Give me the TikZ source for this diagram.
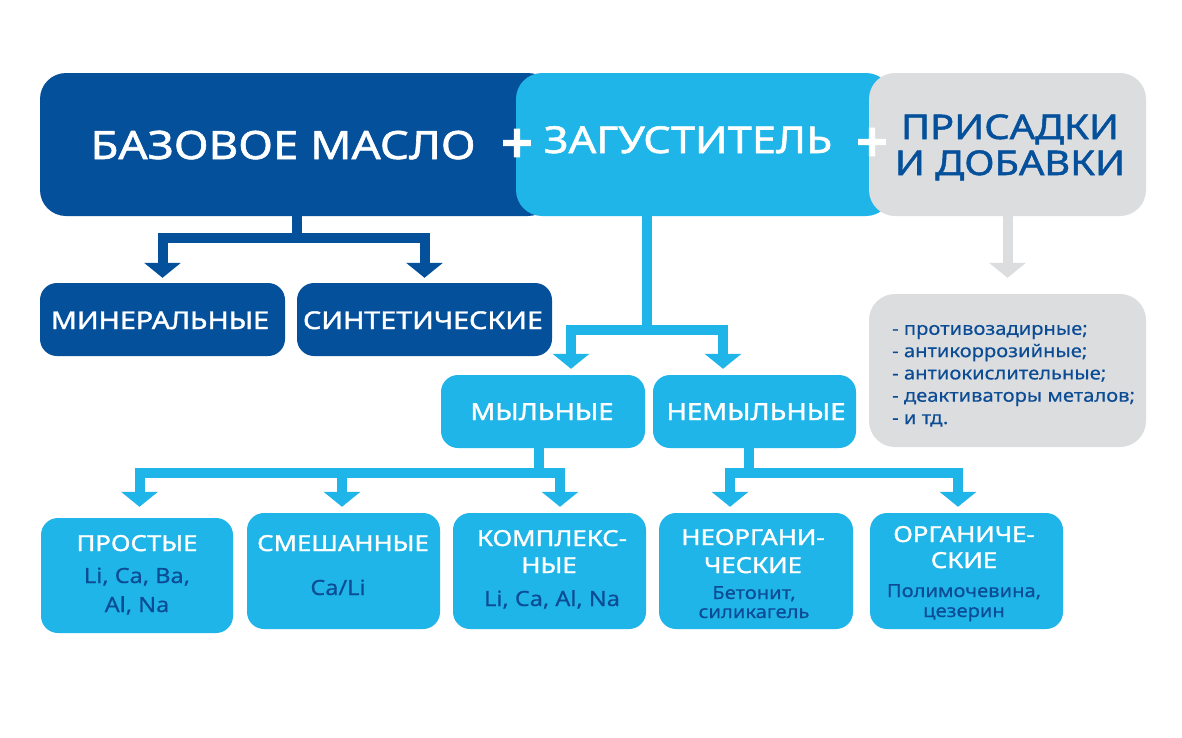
\documentclass[tikz,border=0pt]{standalone}
\usepackage{fontspec}
\setmainfont{Noto Sans}[FakeStretch=1.12, FakeBold=0.4]
\newfontfamily\tfont{Noto Sans}[FakeStretch=1.17, FakeBold=1.5]
\newfontfamily\plusfont{Noto Sans}[FakeBold=4.5]
\usetikzlibrary{arrows.meta,calc}
\definecolor{dkblue}{HTML}{04509B}
\definecolor{ltblue}{HTML}{1FB5E8}
\definecolor{grayb}{HTML}{DCDDDF}
\definecolor{txtblue}{HTML}{0C4C95}
\begin{document}
\begin{tikzpicture}[x=1pt,y=-1pt,
  bigbox/.style={rounded corners=26pt, inner sep=0pt, draw=none},
  smallbox/.style={rounded corners=17pt, inner sep=0pt, draw=none},
  conn/.style={line width=10pt, draw=#1, line join=miter,
    -{Triangle[width=36pt,length=15pt,fill=#1]}},
  wtitle/.style={text=white, anchor=base, inner sep=0pt},
  fs/.style={font=\tfont\fontsize{#1}{#1}\selectfont},
  fsr/.style={font=\fontsize{#1}{#1}\selectfont},
  sub/.style={text=txtblue, anchor=base, inner sep=0pt}
]
\useasboundingbox[fill=white] (0,0) rectangle (1182,737);

% top boxes
\node[bigbox, fill=dkblue, minimum width=514pt, minimum height=143pt] (base) at (297,144.5) {};
\node[bigbox, fill=ltblue, minimum width=376pt, minimum height=143pt] (thick) at (704,144.5) {};
\node[bigbox, fill=grayb, minimum width=277pt, minimum height=143pt] (add) at (1007.5,144.5) {};

\node[wtitle, fs=39] (basetxt) at (283,159) {БАЗОВОЕ МАСЛО};
\node[wtitle, fs=37] (thicktxt) at (688,153) {ЗАГУСТИТЕЛЬ};
\node[wtitle, fs=34, text=dkblue] (addtxt1) at (1010,139) {ПРИСАДКИ};
\node[wtitle, fs=34, text=dkblue] (addtxt2) at (1010,175) {И ДОБАВКИ};
\node[text=white, anchor=center, inner sep=0pt, font=\plusfont\fontsize{54}{54}\selectfont] (plus1) at (517,146) {+};
\node[text=white, anchor=center, inner sep=0pt, font=\plusfont\fontsize{54}{54}\selectfont] (plus2) at (872,145) {+};

% second row
\node[smallbox, fill=dkblue, minimum width=245pt, minimum height=73pt] (mineral) at (162.5,319.5) {};
\node[smallbox, fill=dkblue, minimum width=255pt, minimum height=73pt] (synth) at (424.5,319.5) {};
\node[wtitle, fs=24.5] (mineraltxt) at (160,329) {МИНЕРАЛЬНЫЕ};
\node[wtitle, fs=24.5] (synthtxt) at (423,329) {СИНТЕТИЧЕСКИЕ};

\node[bigbox, fill=grayb, minimum width=277pt, minimum height=153pt] (addlist) at (1007.5,370.5) {};
\node[anchor=base west, inner sep=0pt, text=txtblue, align=left,
      font=\fontsize{18}{22.3}\selectfont] (addlisttxt) at (892,424)
      {- противозадирные;\\- антикоррозийные;\\- антиокислительные;\\- деактиваторы металов;\\- и тд.};

% third row
\node[smallbox, fill=ltblue, minimum width=204pt, minimum height=73pt] (soap) at (543,411.5) {};
\node[smallbox, fill=ltblue, minimum width=203pt, minimum height=73pt] (nonsoap) at (754.5,411.5) {};
\node[wtitle, fs=23.5] (soaptxt) at (542,420) {МЫЛЬНЫЕ};
\node[wtitle, fs=23.5] (nonsoaptxt) at (756,420) {НЕМЫЛЬНЫЕ};

% bottom row
\node[smallbox, fill=ltblue, minimum width=192pt, minimum height=115pt] (simple) at (137,575.5) {};
\node[smallbox, fill=ltblue, minimum width=193pt, minimum height=116pt] (mixed) at (343.5,571) {};
\node[smallbox, fill=ltblue, minimum width=193pt, minimum height=116pt] (complex) at (549.5,571) {};
\node[smallbox, fill=ltblue, minimum width=194pt, minimum height=116pt] (inorg) at (756,571) {};
\node[smallbox, fill=ltblue, minimum width=193pt, minimum height=116pt] (org) at (966.5,571) {};

\node[wtitle, fs=22] (simplet) at (137,551) {ПРОСТЫЕ};
\node[sub, fsr=21] (simples1) at (137,583) {Li, Ca, Ba,};
\node[sub, fsr=21] (simples2) at (137,612) {Al, Na};

\node[wtitle, fs=22] (mixedt) at (343,551) {СМЕШАННЫЕ};
\node[sub, fsr=21] (mixeds) at (338,595) {Ca/Li};

\node[wtitle, fs=22] (complext1) at (552,546) {КОМПЛЕКС-};
\node[wtitle, fs=22] (complext2) at (549,573) {НЫЕ};
\node[sub, fsr=21] (complexs) at (552,606) {Li, Ca, Al, Na};

\node[wtitle, fs=22] (inorgt1) at (753,545) {НЕОРГАНИ-};
\node[wtitle, fs=22] (inorgt2) at (753,573) {ЧЕСКИЕ};
\node[sub, fsr=18] (inorgs1) at (754,599) {Бетонит,};
\node[sub, fsr=18] (inorgs2) at (754,618) {силикагель};

\node[wtitle, fs=22] (orgt1) at (964,542) {ОРГАНИЧЕ-};
\node[wtitle, fs=22] (orgt2) at (964,568) {СКИЕ};
\node[sub, fsr=18] (orgs1) at (964,597) {Полимочевина,};
\node[sub, fsr=18] (orgs2) at (964,617) {цезерин};

% coordinates for arrow entries
\coordinate (tstem) at ($(thick.south)+(-57,0)$);
\coordinate (soapin) at ($(soap.north)+(28,0)$);
\coordinate (nonsoapin) at ($(nonsoap.north)+(-31.5,0)$);
\coordinate (sstem) at ($(soap.south)+(-4,0)$);
\coordinate (simplein) at ($(simple.north)+(2.5,0)$);
\coordinate (mixedin) at ($(mixed.north)+(-1.5,0)$);
\coordinate (complexin) at ($(complex.north)+(10.5,0)$);
\coordinate (nstem) at ($(nonsoap.south)+(-5.5,0)$);
\coordinate (inorgin) at ($(inorg.north)+(-26,0)$);
\coordinate (orgin) at ($(org.north)+(-8.5,0)$);

% connectors
\draw[conn=dkblue, shorten >=5pt] (base.south) -- ++(0,22) -| (mineral.north);
\draw[conn=dkblue, shorten >=5pt] (base.south) -- ++(0,22) -| (synth.north);

\draw[conn=ltblue, shorten >=6pt] (tstem) -- ++(0,114) -| (soapin);
\draw[conn=ltblue, shorten >=6pt] (tstem) -- ++(0,114) -| (nonsoapin);

\draw[conn=ltblue, shorten >=11pt] (sstem) -- ++(0,25) -| (simplein);
\draw[conn=ltblue, shorten >=6pt] (sstem) -- ++(0,25) -| (mixedin);
\draw[conn=ltblue, shorten >=6pt] (sstem) -- ++(0,25) -| (complexin);

\draw[conn=ltblue, shorten >=6pt] (nstem) -- ++(0,25) -| (inorgin);
\draw[conn=ltblue, shorten >=6pt] (nstem) -- ++(0,25) -| (orgin);

\draw[conn=grayb, shorten >=16pt] (add.south) -- (addlist.north);
\end{tikzpicture}
\end{document}
